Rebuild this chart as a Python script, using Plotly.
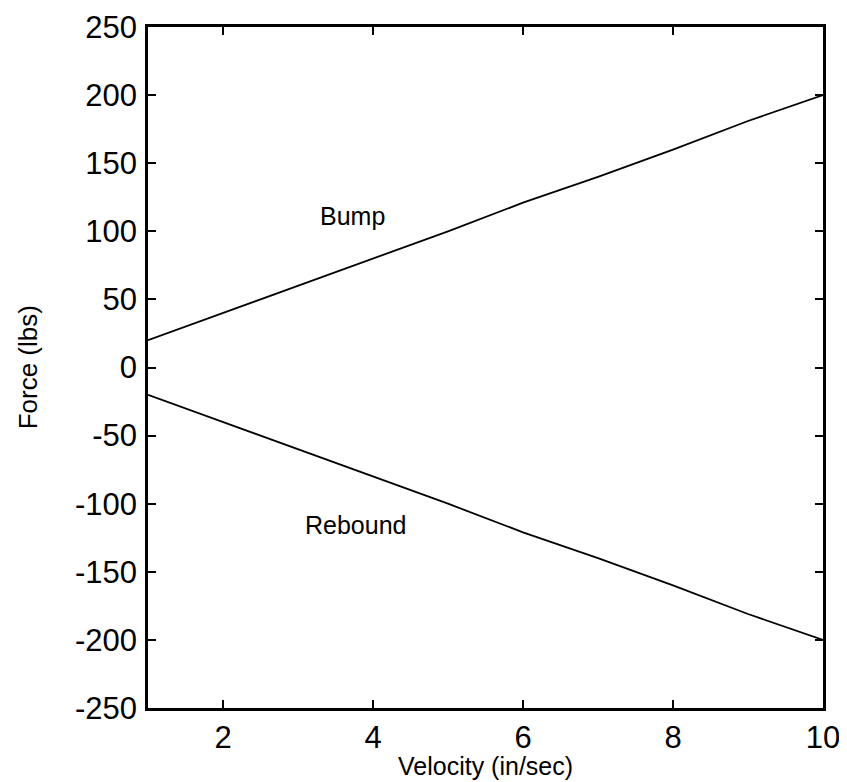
import plotly.graph_objects as go

velocity = [1, 2, 3, 4, 5, 6, 7, 8, 9, 10]
bump = [20, 40, 60, 80, 100, 121, 140, 160, 181, 200]
rebound = [-20, -40, -60, -80, -100, -121, -140, -160, -181, -200]

x_ticks = [2, 4, 6, 8, 10]
y_ticks = [-250, -200, -150, -100, -50, 0, 50, 100, 150, 200, 250]

FONT = "Liberation Sans, Arial, sans-serif"

fig = go.Figure()
fig.add_trace(go.Scatter(x=velocity, y=bump, mode="lines",
                         line=dict(color="black", width=1.8), showlegend=False))
fig.add_trace(go.Scatter(x=velocity, y=rebound, mode="lines",
                         line=dict(color="black", width=1.8), showlegend=False))

axis_common = dict(showline=True, linecolor="black", linewidth=2.5, mirror="ticks",
                   ticks="inside", ticklen=8, tickwidth=1.5, tickcolor="black",
                   showgrid=False, zeroline=False, automargin=False,
                   tickfont=dict(family=FONT, size=31, color="black"))

fig.update_xaxes(range=[1, 10], tickvals=x_ticks, ticktext=[str(v) for v in x_ticks],
                 ticklabelstandoff=0, **axis_common)
fig.update_yaxes(range=[-250, 250], tickvals=y_ticks, ticktext=[str(v) for v in y_ticks],
                 ticklabelstandoff=2, **axis_common)

fig.add_annotation(x=3.73, y=111, text="Bump", showarrow=False,
                   font=dict(family=FONT, size=25, color="black"))
fig.add_annotation(x=3.76, y=-116, text="Rebound", showarrow=False,
                   font=dict(family=FONT, size=25, color="black"))
fig.add_annotation(xref="paper", yref="paper", x=0.5, y=-0.085, yanchor="middle",
                   text="Velocity (in/sec)", showarrow=False,
                   font=dict(family=FONT, size=25, color="black"))
fig.add_annotation(xref="paper", yref="paper", x=-0.178, y=0.5, xanchor="center",
                   text="Force (lbs)", textangle=-90, showarrow=False,
                   font=dict(family=FONT, size=26, color="black"))

fig.update_layout(width=839, height=774, plot_bgcolor="white", paper_bgcolor="white",
                  margin=dict(l=140, r=24, t=19, b=74, autoexpand=False))

fig.write_html("out.html")
